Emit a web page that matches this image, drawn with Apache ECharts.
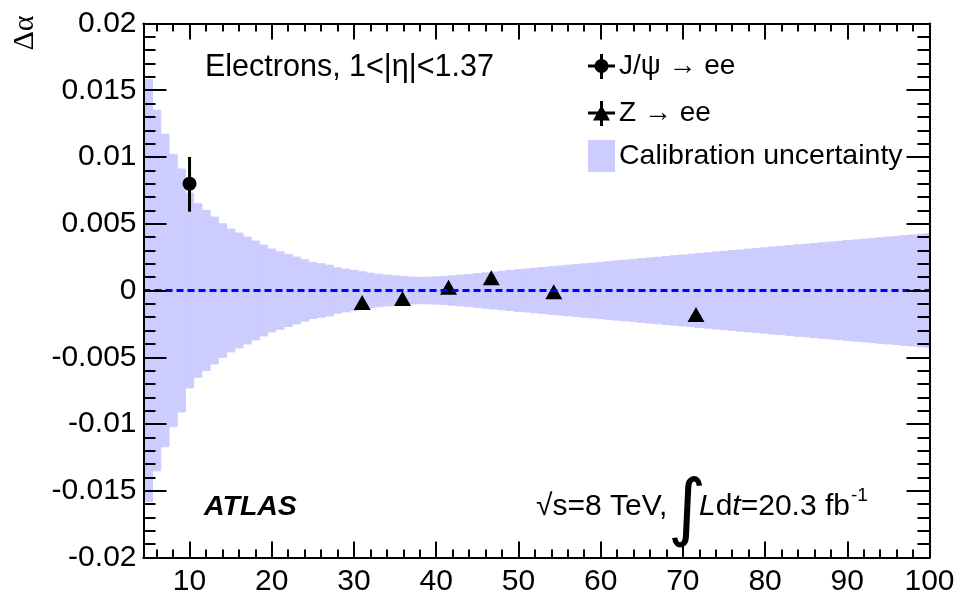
<!DOCTYPE html>
<html>
<head>
<meta charset="utf-8">
<script src="https://cdn.jsdelivr.net/npm/echarts@6/dist/echarts.min.js"></script>
<style>
  html, body { margin: 0; padding: 0; background: #fff; }
  #chart { width: 958px; height: 601px; }
</style>
</head>
<body>
<div id="chart"></div>
<script>
// axis ranges
const X_MIN = 4.4;
const X_MAX = 100;
const Y_MIN = -0.02;
const Y_MAX = 0.02;

// calibration uncertainty band: half width for each 1 GeV bin, bin centres 5, 6, ... 100
const bandFirstCentre = 5;
const bandHalfWidth = [
  0.0158, 0.0135, 0.0117, 0.0102, 0.0091, 0.0073, 0.0065, 0.0060, 0.0055, 0.0050,   // 5-14
  0.0046, 0.0043, 0.0040, 0.0037, 0.0034, 0.0031, 0.0029, 0.0027, 0.0025, 0.0023,   // 15-24
  0.0021, 0.0020, 0.0019, 0.0017, 0.0016, 0.0015, 0.0014, 0.0013, 0.00122, 0.00115, // 25-34
  0.0011, 0.00105, 0.00101, 0.00099, 0.0010, 0.00102, 0.00106, 0.0011, 0.00115, 0.0012, // 35-44
  0.00126, 0.00132, 0.00138, 0.00144, 0.0015, 0.00156, 0.00161, 0.00167, 0.00172, 0.00178, // 45-54
  0.00183, 0.00189, 0.00194, 0.0020, 0.00205, 0.00211, 0.00216, 0.00222, 0.00227, 0.00233, // 55-64
  0.00238, 0.00244, 0.00249, 0.00255, 0.0026, 0.00266, 0.00271, 0.00277, 0.00282, 0.00288, // 65-74
  0.00293, 0.00299, 0.00304, 0.0031, 0.00315, 0.0032, 0.00326, 0.00331, 0.00336, 0.00342,  // 75-84
  0.00347, 0.00352, 0.00358, 0.00363, 0.00368, 0.00374, 0.00379, 0.00384, 0.0039, 0.00395, // 85-94
  0.0040, 0.00405, 0.00411, 0.00416, 0.00421, 0.00426                                    // 95-100
];

// J/psi -> ee point
const jpsiX = [10];
const jpsiY = [0.0080];
const jpsiLow = [0.0059];
const jpsiHigh = [0.0100];

// Z -> ee points
const zX = [31.0, 35.9, 41.5, 46.7, 54.3, 71.6];
const zY = [-0.0009, -0.0006, 0.00025, 0.00095, -0.0001, -0.0018];

// tick positions on x
const xMajorTicks = [10, 20, 30, 40, 50, 60, 70, 80, 90, 100];
const xMinorTicks = [6, 8, 12, 14, 16, 18, 22, 24, 26, 28, 32, 34, 36, 38, 42, 44, 46, 48,
  52, 54, 56, 58, 62, 64, 66, 68, 72, 74, 76, 78, 82, 84, 86, 88, 92, 94, 96, 98];

const BAND_COLOR = '#ccccff';
const FONT = '"Liberation Sans", Arial, Helvetica, sans-serif';

const bandRows = bandHalfWidth.map((hw, i) => {
  const c = bandFirstCentre + i;
  return [Math.max(c - 0.5, X_MIN), Math.min(c + 0.5, X_MAX), hw];
});

const chart = echarts.init(document.getElementById('chart'), null, { renderer: 'canvas' });

function renderBand(params, api) {
  const p0 = api.coord([api.value(0), api.value(2)]);
  const p1 = api.coord([api.value(1), -api.value(2)]);
  return {
    type: 'rect',
    shape: { x: p0[0], y: p0[1], width: p1[0] - p0[0], height: p1[1] - p0[1] },
    style: { fill: BAND_COLOR, stroke: BAND_COLOR, lineWidth: 1 }
  };
}

function renderErr(params, api) {
  const top = api.coord([api.value(0), api.value(2)]);
  const bot = api.coord([api.value(0), api.value(1)]);
  return {
    type: 'line',
    shape: { x1: top[0], y1: top[1], x2: bot[0], y2: bot[1] },
    style: { stroke: '#000', lineWidth: 3 }
  };
}

const axisLine = { show: true, onZero: false, lineStyle: { color: '#000', width: 2 } };
const tickStyle = { color: '#000', width: 2 };

function xAxisDef(pos, ticks, len, labels) {
  return {
    type: 'value', position: pos, min: X_MIN, max: X_MAX, z: 10,
    axisLine: axisLine,
    splitLine: { show: false },
    axisTick: { show: true, inside: true, length: len, lineStyle: tickStyle, customValues: ticks },
    axisLabel: labels ? {
      show: true, customValues: ticks, color: '#000', fontSize: 30, fontFamily: FONT, margin: 9
    } : { show: false }
  };
}

function yAxisDef(pos, labels) {
  return {
    type: 'value', position: pos, min: Y_MIN, max: Y_MAX, interval: 0.005, z: 10,
    axisLine: axisLine,
    splitLine: { show: false },
    axisTick: { show: true, inside: true, length: 23, lineStyle: tickStyle },
    minorTick: { show: true, splitNumber: 5, length: 12, lineStyle: tickStyle },
    minorSplitLine: { show: false },
    axisLabel: labels ? {
      show: true, color: '#000', fontSize: 30, fontFamily: FONT, margin: 7,
      formatter: v => String(Math.round(v * 1000) / 1000)
    } : { show: false }
  };
}

const option = {
  animation: false,
  backgroundColor: '#fff',
  grid: { left: 143.5, right: 28.5, top: 23.5, bottom: 43.5, containLabel: false },
  xAxis: [
    xAxisDef('bottom', xMajorTicks, 16, true),
    xAxisDef('bottom', xMinorTicks, 8, false),
    xAxisDef('top', xMajorTicks, 16, false),
    xAxisDef('top', xMinorTicks, 8, false)
  ],
  yAxis: [yAxisDef('left', true), yAxisDef('right', false)],
  series: [
    {
      name: 'Calibration uncertainty',
      type: 'custom',
      renderItem: renderBand,
      data: bandRows,
      encode: { x: [0, 1], y: 2 },
      z: 1,
      silent: true
    },
    {
      type: 'line',
      data: [[X_MIN, 0], [X_MAX, 0]],
      showSymbol: false,
      lineStyle: { color: '#0000ff', width: 3, type: [7, 4] },
      z: 6,
      silent: true
    },
    {
      type: 'custom',
      renderItem: renderErr,
      data: jpsiX.map((x, i) => [x, jpsiLow[i], jpsiHigh[i]]),
      encode: { x: 0, y: [1, 2] },
      z: 4
    },
    {
      name: 'J/psi -> ee',
      type: 'scatter',
      symbol: 'circle',
      symbolSize: 14,
      itemStyle: { color: '#000', opacity: 1 },
      data: jpsiX.map((x, i) => [x, jpsiY[i]]),
      z: 5
    },
    {
      name: 'Z -> ee',
      type: 'scatter',
      symbol: 'triangle',
      symbolSize: [17, 15],
      itemStyle: { color: '#000', opacity: 1 },
      data: zX.map((x, i) => [x, zY[i]]),
      z: 5
    }
  ],
  graphic: [
    // y title
    {
      type: 'text', x: 25, y: 33, rotation: Math.PI / 2,
      style: { text: 'Δα', fill: '#000', font: '30px "Liberation Serif", "DejaVu Serif", serif', align: 'center', verticalAlign: 'middle' }
    },
    {
      type: 'text', x: 205, y: 68,
      style: { text: 'Electrons, 1<|η|<1.37', fill: '#000', font: '30.5px ' + FONT, verticalAlign: 'middle' }
    },
    // legend: J/psi
    { type: 'line', shape: { x1: 588, y1: 66, x2: 615, y2: 66 }, style: { stroke: '#000', lineWidth: 3 } },
    { type: 'line', shape: { x1: 601.5, y1: 54, x2: 601.5, y2: 79 }, style: { stroke: '#000', lineWidth: 3 } },
    { type: 'circle', shape: { cx: 601.5, cy: 66, r: 7 }, style: { fill: '#000' } },
    {
      type: 'text', x: 619, y: 66,
      style: { text: 'J/ψ → ee', fill: '#000', font: '28px ' + FONT, verticalAlign: 'middle' }
    },
    // legend: Z
    { type: 'line', shape: { x1: 588, y1: 113, x2: 615, y2: 113 }, style: { stroke: '#000', lineWidth: 3 } },
    { type: 'line', shape: { x1: 601.5, y1: 101, x2: 601.5, y2: 126 }, style: { stroke: '#000', lineWidth: 3 } },
    { type: 'polygon', shape: { points: [[601.5, 105], [610, 120.5], [593, 120.5]] }, style: { fill: '#000' } },
    {
      type: 'text', x: 619, y: 113,
      style: { text: 'Z → ee', fill: '#000', font: '28px ' + FONT, verticalAlign: 'middle' }
    },
    // legend: band
    { type: 'rect', shape: { x: 588, y: 140, width: 27, height: 32 }, style: { fill: BAND_COLOR } },
    {
      type: 'text', x: 619, y: 156,
      style: { text: 'Calibration uncertainty', fill: '#000', font: '28.5px ' + FONT, verticalAlign: 'middle' }
    },
    // ATLAS label
    {
      type: 'text', x: 204, y: 507,
      style: { text: 'ATLAS', fill: '#000', font: 'italic bold 28.5px ' + FONT, verticalAlign: 'middle' }
    },
    // energy and luminosity
    {
      type: 'text', x: 536, y: 507,
      style: { text: '√s=8 TeV,', fill: '#000', font: '30px ' + FONT, verticalAlign: 'middle' }
    },
    {
      type: 'text', x: 668, y: 513,
      style: { text: '∫', fill: '#000', font: '74px "DejaVu Sans", sans-serif', verticalAlign: 'middle' }
    },
    {
      type: 'text', x: 699, y: 507,
      style: {
        text: '{i|L}{r|d}{i|t}{r|=20.3 fb}',
        fill: '#000', font: '30px ' + FONT, verticalAlign: 'middle',
        rich: {
          i: { font: 'italic 30px ' + FONT, fill: '#000' },
          r: { font: '30px ' + FONT, fill: '#000' }
        }
      }
    },
    {
      type: 'text', x: 851, y: 496,
      style: { text: '-1', fill: '#000', font: '19px ' + FONT, verticalAlign: 'middle' }
    }
  ]
};

chart.setOption(option);
</script>
</body>
</html>
